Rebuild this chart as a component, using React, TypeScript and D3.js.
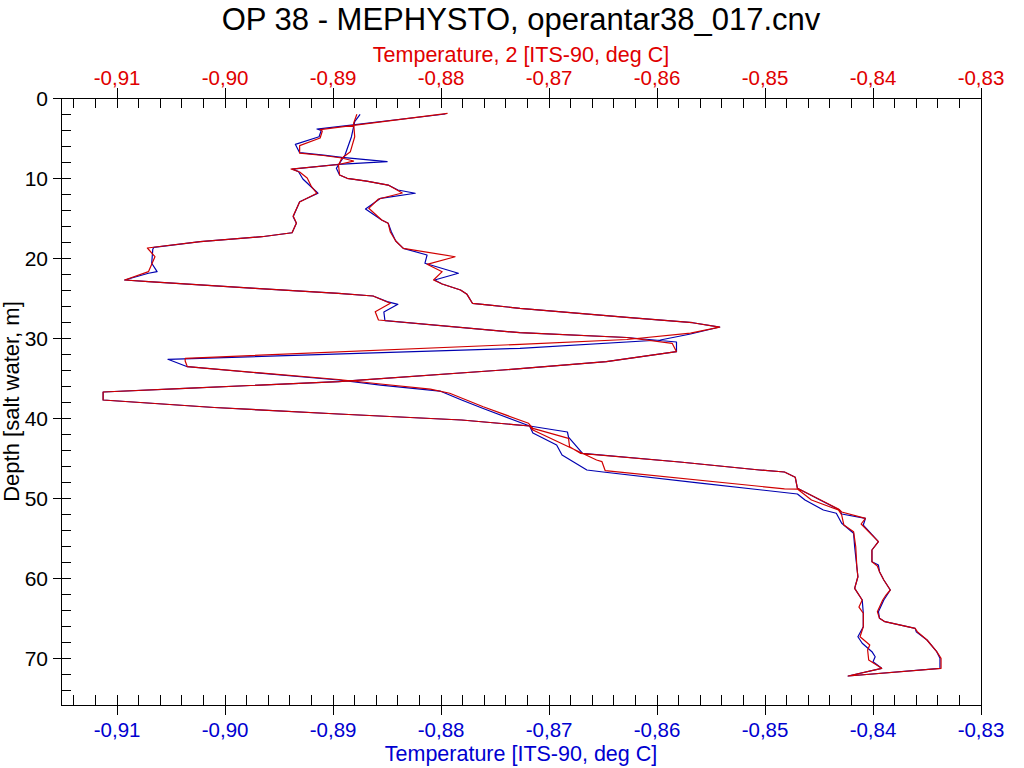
import React from "react";
import * as d3 from "d3";

const chartTitle = "OP 38 - MEPHYSTO, operantar38_017.cnv";
const topAxisTitle = "Temperature, 2 [ITS-90, deg C]";
const bottomAxisTitle = "Temperature [ITS-90, deg C]";
const depthAxisTitle = "Depth [salt water, m]";

// [temperature, depth] pairs, primary sensor: downcast then upcast
const tempDown: [number, number][] = [
  [-0.8875, 2.04], [-0.888, 2.96], [-0.8883, 4.84], [-0.8889, 7.13], [-0.8894, 8.16],
  [-0.8897, 8.79], [-0.8894, 9.63], [-0.8887, 10.04], [-0.8869, 10.38], [-0.8849, 10.88],
  [-0.884, 11.5], [-0.8824, 11.91], [-0.8856, 12.54], [-0.887, 13.88], [-0.8855, 15.25],
  [-0.8849, 15.66], [-0.8846, 16.75], [-0.8842, 17.88], [-0.8835, 18.79], [-0.8813, 19.63],
  [-0.8815, 20.66], [-0.8784, 21.91], [-0.8806, 22.75], [-0.8799, 23.25], [-0.8782, 24.0],
  [-0.8776, 24.54], [-0.8771, 25.66], [-0.8755, 25.88], [-0.8727, 26.29], [-0.8628, 27.41],
  [-0.8567, 28.09], [-0.8542, 28.63], [-0.8569, 29.5], [-0.8597, 30.25], [-0.8727, 31.29],
  [-0.9053, 32.66], [-0.9035, 33.59], [-0.8895, 35.25], [-0.8856, 35.88], [-0.8801, 36.63],
  [-0.8781, 37.75], [-0.8761, 38.81], [-0.8718, 41.0], [-0.8683, 41.75], [-0.8682, 42.38],
  [-0.8669, 44.41], [-0.8579, 45.5], [-0.8505, 46.5], [-0.8482, 46.75], [-0.8472, 47.41],
  [-0.847, 48.79], [-0.8431, 51.5], [-0.8429, 52.0], [-0.8407, 52.54], [-0.8409, 53.38],
  [-0.8395, 55.46], [-0.8401, 56.5], [-0.8401, 57.96], [-0.8395, 58.38], [-0.8394, 59.21],
  [-0.839, 60.25], [-0.8384, 61.5], [-0.8387, 62.13], [-0.839, 62.75], [-0.8395, 64.21],
  [-0.8394, 65.04], [-0.8389, 65.46], [-0.8361, 66.29], [-0.836, 66.71], [-0.835, 67.75],
  [-0.8341, 69.21], [-0.8338, 70.04], [-0.8338, 71.29], [-0.8423, 72.25],
];
const tempUp: [number, number][] = [
  [-0.8392, 71.29], [-0.84, 70.46], [-0.8398, 69.84], [-0.8401, 69.21], [-0.841, 68.16],
  [-0.8414, 67.34], [-0.8409, 66.09], [-0.8409, 64.41], [-0.841, 62.75], [-0.8417, 61.29],
  [-0.8414, 59.84], [-0.8415, 58.59], [-0.8417, 56.09], [-0.8418, 54.41], [-0.8429, 53.16],
  [-0.8434, 51.91], [-0.8446, 51.5], [-0.8463, 50.25], [-0.847, 49.5], [-0.856, 48.13],
  [-0.865, 46.75], [-0.8665, 46.5], [-0.8688, 44.63], [-0.8693, 43.38], [-0.8715, 41.88],
  [-0.8718, 41.0], [-0.8781, 40.25], [-0.8895, 39.5], [-0.901, 38.69], [-0.9113, 37.75],
  [-0.9113, 36.75], [-0.9037, 36.29], [-0.8895, 35.46], [-0.8743, 34.0], [-0.8647, 32.96],
  [-0.8582, 31.71], [-0.8582, 30.5], [-0.8628, 29.94], [-0.8727, 29.34], [-0.8852, 27.84],
  [-0.8853, 26.75], [-0.884, 25.79], [-0.885, 25.46], [-0.8863, 24.75], [-0.8895, 24.41],
  [-0.8972, 23.79], [-0.9071, 22.96], [-0.9093, 22.75], [-0.9071, 21.91], [-0.9063, 21.71],
  [-0.9068, 20.66], [-0.9067, 18.91], [-0.9066, 18.66], [-0.9023, 17.96], [-0.8966, 17.34],
  [-0.8938, 16.84], [-0.8934, 15.66], [-0.8937, 14.84], [-0.8931, 12.96], [-0.8914, 11.91],
  [-0.8928, 10.13], [-0.8932, 9.21], [-0.8938, 8.88], [-0.8895, 8.29], [-0.885, 7.96],
  [-0.8892, 7.41], [-0.8909, 7.13], [-0.8931, 6.84], [-0.8935, 5.79], [-0.8913, 4.84],
  [-0.8911, 4.04], [-0.8915, 3.88], [-0.8796, 2.0],
];

// secondary sensor (Temperature, 2)
const temp2Down: [number, number][] = [
  [-0.8878, 2.04], [-0.8881, 3.16], [-0.888, 4.84], [-0.8884, 6.71], [-0.8892, 7.54],
  [-0.8895, 8.38], [-0.8894, 9.63], [-0.8887, 10.04], [-0.8869, 10.38], [-0.8849, 10.88],
  [-0.884, 11.56], [-0.8836, 11.88], [-0.8858, 12.63], [-0.8867, 13.79], [-0.8855, 15.25],
  [-0.8849, 15.66], [-0.8847, 16.75], [-0.8842, 17.88], [-0.8835, 18.79], [-0.8787, 19.84],
  [-0.8813, 20.79], [-0.8799, 21.71], [-0.8807, 22.75], [-0.8799, 23.25], [-0.8782, 24.0],
  [-0.8776, 24.54], [-0.8771, 25.66], [-0.8755, 25.88], [-0.8727, 26.29], [-0.8628, 27.41],
  [-0.8567, 28.09], [-0.8542, 28.63], [-0.8569, 29.38], [-0.8628, 30.19], [-0.8727, 30.79],
  [-0.9037, 32.54], [-0.9037, 32.88], [-0.9035, 33.59], [-0.8895, 35.19], [-0.8856, 35.75],
  [-0.881, 36.38], [-0.8792, 36.91], [-0.8761, 38.59], [-0.8719, 40.66], [-0.8715, 41.29],
  [-0.8682, 42.54], [-0.8681, 43.59], [-0.8671, 44.41], [-0.8579, 45.5], [-0.8505, 46.5],
  [-0.8482, 46.75], [-0.8472, 47.41], [-0.847, 48.79], [-0.8432, 51.38], [-0.8429, 51.75],
  [-0.8407, 52.54], [-0.8411, 53.25], [-0.8395, 55.46], [-0.8401, 56.5], [-0.8401, 57.96],
  [-0.8396, 58.5], [-0.8394, 59.21], [-0.839, 60.25], [-0.8384, 61.5], [-0.8388, 62.13],
  [-0.8391, 62.75], [-0.8396, 64.21], [-0.8394, 65.04], [-0.8389, 65.46], [-0.8361, 66.29],
  [-0.8359, 66.71], [-0.835, 67.75], [-0.8341, 69.21], [-0.8337, 70.04], [-0.8337, 71.29],
  [-0.8423, 72.25],
];
const temp2Up: [number, number][] = [
  [-0.8392, 71.29], [-0.8404, 70.25], [-0.8405, 69.0], [-0.8403, 68.38], [-0.8412, 67.34],
  [-0.8409, 66.09], [-0.8409, 64.41], [-0.8413, 63.63], [-0.841, 62.75], [-0.8417, 61.29],
  [-0.8414, 59.84], [-0.8415, 58.59], [-0.8416, 56.09], [-0.8418, 54.21], [-0.8427, 53.38],
  [-0.8429, 52.13], [-0.8432, 51.5], [-0.8457, 50.25], [-0.847, 48.88], [-0.8482, 48.85],
  [-0.8648, 46.59], [-0.8651, 45.46], [-0.8656, 45.25], [-0.8682, 43.59], [-0.8715, 41.5],
  [-0.8718, 41.0], [-0.8781, 40.25], [-0.8895, 39.5], [-0.901, 38.69], [-0.9113, 37.75],
  [-0.9113, 36.75], [-0.9037, 36.29], [-0.8895, 35.46], [-0.8743, 34.0], [-0.8647, 32.96],
  [-0.8582, 31.71], [-0.8586, 30.66], [-0.8628, 29.94], [-0.8727, 29.34], [-0.8858, 27.75],
  [-0.8861, 26.71], [-0.8847, 25.66], [-0.8863, 24.75], [-0.8895, 24.41], [-0.8972, 23.79],
  [-0.9071, 22.96], [-0.9093, 22.75], [-0.9071, 21.71], [-0.9065, 19.84], [-0.9072, 18.75],
  [-0.9023, 17.96], [-0.8966, 17.34], [-0.8938, 16.84], [-0.8934, 15.63], [-0.8937, 14.75],
  [-0.8931, 13.0], [-0.8915, 11.91], [-0.892, 11.09], [-0.8924, 10.0], [-0.8931, 9.25],
  [-0.8939, 8.88], [-0.8895, 8.31], [-0.8881, 7.88], [-0.8892, 7.5], [-0.8909, 7.19],
  [-0.8931, 6.88], [-0.8931, 5.96], [-0.8912, 5.0], [-0.891, 4.13], [-0.8912, 3.96],
  [-0.8794, 1.91],
];

const tempDomain = [-0.9152, -0.83];
const depthDomain = [0, 75.875];

const blue = "#0000b0";
const red = "#d00000";
const font = "'Liberation Sans', Arial, sans-serif";

const App: React.FC = () => {
  const left = 61, right = 981, top = 98, bottom = 705;

  const x = d3.scaleLinear().domain(tempDomain).range([left, right]);
  const y = d3.scaleLinear().domain(depthDomain).range([top, bottom]);

  const fmt = d3
    .formatLocale({ decimal: ",", thousands: ".", grouping: [3], currency: ["", ""], minus: "-" })
    .format(".2f");

  const line = d3
    .line<[number, number]>()
    .x((d) => x(d[0]))
    .y((d) => y(d[1]));

  const xMajor = x.ticks(9);
  const xMinor = x.ticks(45).filter((v) => Math.abs(v * 100 - Math.round(v * 100)) > 1e-6);
  const yMajor = y.ticks(8);
  const yMinor = y.ticks(38).filter((v) => v % 10 !== 0);

  const tickLen = 10;

  return (
    <svg
      width={1024}
      height={768}
      style={{ position: "absolute", left: 0, top: 0, background: "#fff" }}
      fontFamily={font}
    >
      <rect width={1024} height={768} fill="#fff" />

      <text x={(left + right) / 2} y={30} fontSize={31} textAnchor="middle" fill="#000">
        {chartTitle}
      </text>
      <text x={(left + right) / 2} y={62} fontSize={21.5} textAnchor="middle" fill="#e00000">
        {topAxisTitle}
      </text>
      <text x={(left + right) / 2} y={761} fontSize={21.5} textAnchor="middle" fill="#0000d0">
        {bottomAxisTitle}
      </text>
      <text
        transform={`translate(${19},${(top + bottom) / 2}) rotate(-90)`}
        fontSize={22}
        textAnchor="middle"
        fill="#000"
      >
        {depthAxisTitle}
      </text>

      {/* series */}
      <g fill="none" strokeWidth={1.2} strokeLinejoin="round">
        <path d={line([...tempDown, ...tempUp]) || ""} stroke={blue} />
        <path d={line([...temp2Down, ...temp2Up]) || ""} stroke={red} />
      </g>

      {/* frame and ticks */}
      <g stroke="#000" strokeWidth={1} shapeRendering="crispEdges">
        <rect x={left} y={top} width={right - left} height={bottom - top} fill="none" />
        {xMajor.map((v) => (
          <g key={`xm${v}`}>
            <line x1={x(v)} x2={x(v)} y1={top - tickLen} y2={top + tickLen} />
            <line x1={x(v)} x2={x(v)} y1={bottom - tickLen} y2={bottom + tickLen} />
          </g>
        ))}
        {xMinor.map((v) => (
          <g key={`xn${v}`}>
            <line x1={x(v)} x2={x(v)} y1={top} y2={top + tickLen} />
            <line x1={x(v)} x2={x(v)} y1={bottom - tickLen} y2={bottom} />
          </g>
        ))}
        {yMajor.map((v) => (
          <line key={`ym${v}`} x1={left - 8} x2={left + tickLen} y1={y(v)} y2={y(v)} />
        ))}
        {yMinor.map((v) => (
          <line key={`yn${v}`} x1={left} x2={left + tickLen} y1={y(v)} y2={y(v)} />
        ))}
      </g>

      {/* tick labels */}
      <g fontSize={20.5} textAnchor="middle">
        {xMajor.map((v) => (
          <text key={`tt${v}`} x={x(v)} y={85} fill="#e00000">
            {fmt(v)}
          </text>
        ))}
        {xMajor.map((v) => (
          <text key={`bt${v}`} x={x(v)} y={737} fill="#0000d0">
            {fmt(v)}
          </text>
        ))}
      </g>
      <g fontSize={21} textAnchor="end" fill="#000">
        {yMajor.map((v) => (
          <text key={`yl${v}`} x={48} y={y(v) + 7.5}>
            {v}
          </text>
        ))}
      </g>
    </svg>
  );
};

export default App;
